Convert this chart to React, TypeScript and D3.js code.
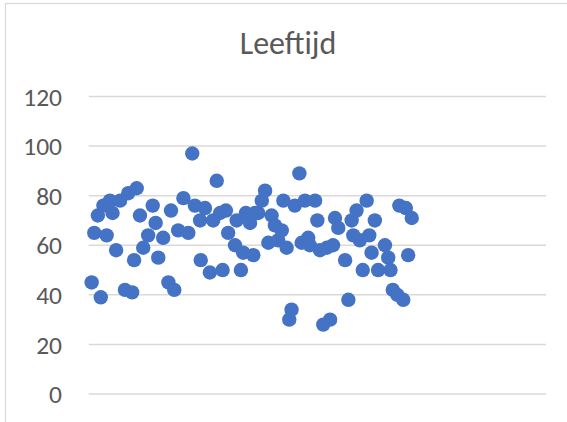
import React from "react";
import * as d3 from "d3";

const title = "Leeftijd";
const yTicks = [0, 20, 40, 60, 80, 100, 120];
const xDomain = [0, 140];
const yDomain = [0, 120];

// x = row number, y = age
const xs = [
  0.9, 1.7, 2.8, 3.7, 4.5, 5.5, 6.5, 7.3, 8.4, 9.6,
  11.1, 12.1, 13.3, 13.9, 14.7, 15.7, 16.7, 18.2, 19.6, 20.5,
  21.3, 22.8, 24.4, 25.2, 26.2, 27.4, 29.0, 30.5, 31.7, 32.5,
  34.1, 34.3, 35.6, 37.1, 38.1, 39.2, 40.2, 41.0, 42.0, 42.7,
  44.8, 45.3, 46.6, 47.3, 48.1, 49.4, 50.4, 50.9, 51.9, 53.0,
  54.0, 55.0, 56.0, 57.0, 58.0, 59.1, 59.6, 60.6, 61.4, 62.1,
  63.1, 64.5, 65.2, 66.2, 67.2, 67.7, 69.3, 70.0, 70.8, 71.8,
  72.9, 73.9, 74.8, 75.4, 76.4, 78.5, 79.5, 80.5, 81.0, 82.0,
  83.0, 83.9, 85.1, 85.9, 86.6, 87.6, 88.6, 90.7, 91.7, 92.4,
  93.1, 94.5, 95.1, 96.3, 97.1, 97.8, 98.9,
];
const ages = [
  45, 65, 72, 39, 76, 64, 78, 73, 58, 78,
  42, 81, 41, 54, 83, 72, 59, 64, 76, 69,
  55, 63, 45, 74, 42, 66, 79, 65, 97, 76,
  70, 54, 75, 49, 70, 86, 73, 50, 74, 65,
  60, 70, 50, 57, 73, 69, 56, 73, 73, 78,
  82, 61, 72, 68, 62, 66, 78, 59, 30, 34,
  76, 89, 61, 78, 63, 60, 78, 70, 58, 28,
  59, 30, 60, 71, 67, 54, 38, 70, 64, 74,
  62, 50, 78, 64, 57, 70, 50, 60, 55, 50,
  42, 40, 76, 38, 75, 56, 71,
];

const FONT = "Carlito, Calibri, Lato, 'Open Sans', sans-serif";
const TEXT = "#595959";
const GRID = "#D9D9D9";
const DOT = "#4472C4";

export default function App() {
  const W = 567;
  const H = 422;
  const x = d3.scaleLinear().domain(xDomain).range([88.7, 546]);
  const y = d3.scaleLinear().domain(yDomain).range([394, 96.5]);
  const data = xs.map((v, i) => ({ x: v, y: ages[i] }));

  return (
    <svg
      width={W}
      height={H}
      style={{ position: "absolute", left: 0, top: 0, background: "#fff" }}
      fontFamily={FONT}
    >
      <rect x={0} y={0} width={W} height={H} fill="#fff" />
      <rect
        x={5.5}
        y={3.5}
        width={W + 20}
        height={H + 20}
        fill="none"
        stroke={GRID}
        strokeWidth={1.2}
      />
      <text
        x={288}
        y={54}
        textAnchor="middle"
        fontSize={32}
        fill={TEXT}
      >
        {title}
      </text>
      {yTicks.map((t) => (
        <g key={t}>
          <line
            x1={x(xDomain[0])}
            x2={x(xDomain[1])}
            y1={y(t)}
            y2={y(t)}
            stroke={GRID}
            strokeWidth={1.5}
          />
          <text
            x={62}
            y={y(t)}
            dy="0.36em"
            textAnchor="end"
            fontSize={25.5}
            fill={TEXT}
          >
            {t}
          </text>
        </g>
      ))}
      {data.map((d, i) => (
        <circle key={i} cx={x(d.x)} cy={y(d.y)} r={7.2} fill={DOT} />
      ))}
    </svg>
  );
}
